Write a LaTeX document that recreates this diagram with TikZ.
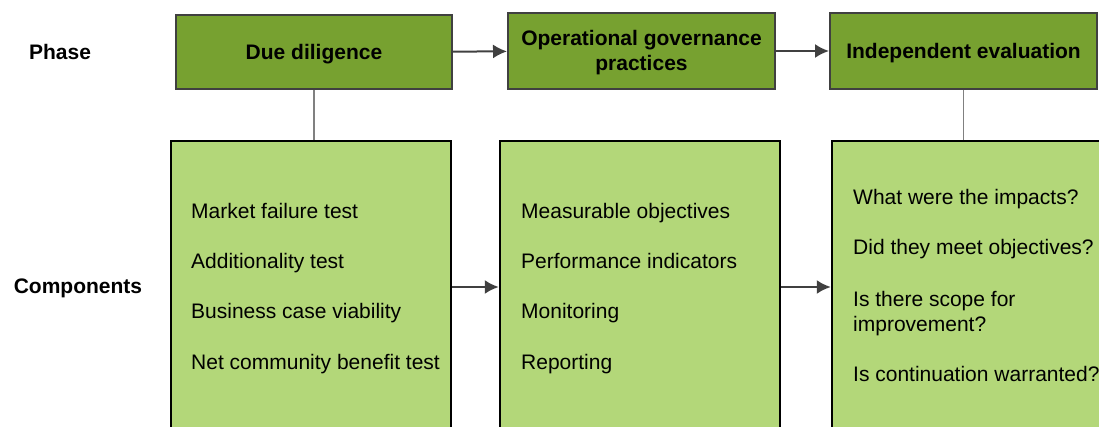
\documentclass[tikz,border=0pt]{standalone}
\usepackage{fontspec}
\setmainfont{Liberation Sans}
\usepackage{tikz}
\usetikzlibrary{fit}
\usetikzlibrary{arrows.meta}

\definecolor{phasegreen}{RGB}{119,161,48}
\definecolor{compgreen}{RGB}{179,215,121}
\definecolor{edgegray}{RGB}{64,64,64}

\begin{document}
\begin{tikzpicture}[x=1pt, y=-1pt,
	every node/.style={font=\fontsize{21}{25}\selectfont},
	title/.style={font=\fontsize{21}{25}\selectfont\bfseries, align=center, yshift=-2pt},
	phase/.style={draw=edgegray, line width=2pt, fill=phasegreen, inner sep=0pt},
	comp/.style={draw=black, line width=2.5pt, fill=compgreen, inner sep=0pt},
	item/.style={anchor=base west, inner sep=0pt, align=left},
	link/.style={draw=gray, line width=1.2pt},
	flow/.style={draw=edgegray, line width=2pt, -{Latex[length=14pt,width=14pt]}}]
	\useasboundingbox (0,0) rectangle (1099,427);
	\clip (0,0) rectangle (1099,427);

	\node[title] (P) at (60,50) {Phase};	% row labels
	\node[title] (Q) at (78,286) {Components};

	\node[phase, fit={(176,15) (452,89)}, label={[title]center:Due diligence}] (A) {};	% phase boxes
	\node[phase, fit={(508,13) (775,89)}, label={[title]center:{Operational governance\\practices}}] (B) {};
	\node[phase, fit={(830,13) (1097,89)}, label={[title]center:Independent evaluation}] (C) {};

	\draw[flow] (A) -- (B);	% phase arrows
	\draw[flow] (B) -- (C);

	\node[comp, fit={(171,141) (451,433)}] (D) {};	% component boxes
	\node[comp, fit={(500,141) (780,433)}] (E) {};
	\node[comp, fit={(832,141) (1120,433)}] (F) {};

	\draw[link] (A.south) -- (A.south |- D.north);	% phase to components
	\draw[link] (C.south) -- (C.south |- F.north);

	\draw[flow] (D) -- (E);	% component arrows
	\draw[flow] (E) -- (F);

	\node[item] (D1) at (191,219) {Market failure test};	% due diligence items
	\node[item] (D2) at (191,269) {Additionality test};
	\node[item] (D3) at (191,319) {Business case viability};
	\node[item] (D4) at (191,369) {Net community benefit test};

	\node[item] (E1) at (521,219) {Measurable objectives};	% governance items
	\node[item] (E2) at (521,269) {Performance indicators};
	\node[item] (E3) at (521,319) {Monitoring};
	\node[item] (E4) at (521,369) {Reporting};

	\node[item] (F1) at (853,205) {What were the impacts?};	% evaluation items
	\node[item] (F2) at (853,255) {Did they meet objectives?};
	\node[item] (F3) at (853,331) {Is there scope for\\improvement?};
	\node[item] (F4) at (853,381) {Is continuation warranted?};
\end{tikzpicture}
\end{document}
